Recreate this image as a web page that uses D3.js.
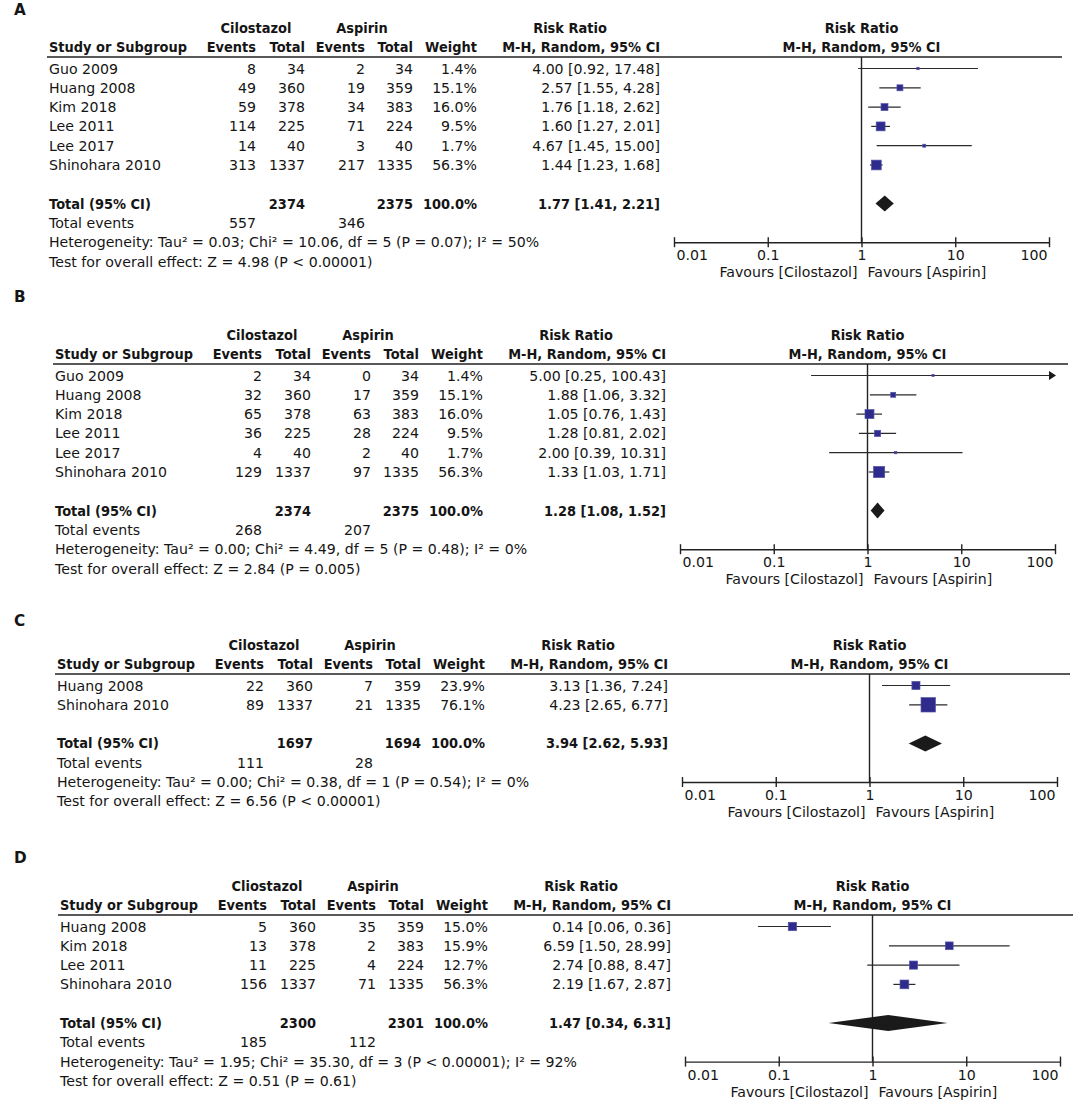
<!DOCTYPE html>
<html><head><meta charset="utf-8">
<script src="https://cdn.jsdelivr.net/npm/d3@7"></script>
<style>body{margin:0;background:#fff}svg{display:block}</style>
</head><body>
<svg id="c" width="1084" height="1109"></svg>
<script>
// ---------------- DATA ----------------
const panelLetters = ["A", "B", "C", "D"];
const groupNames = [["Cilostazol", "Aspirin"], ["Cilostazol", "Aspirin"], ["Cilostazol", "Aspirin"], ["Cliostazol", "Aspirin"]];

// Panel A
const studiesA = ["Guo 2009", "Huang 2008", "Kim 2018", "Lee 2011", "Lee 2017", "Shinohara 2010"];
const cilEventsA = [8, 49, 59, 114, 14, 313];
const cilTotalA = [34, 360, 378, 225, 40, 1337];
const aspEventsA = [2, 19, 34, 71, 3, 217];
const aspTotalA = [34, 359, 383, 224, 40, 1335];
const weightA = [1.4, 15.1, 16.0, 9.5, 1.7, 56.3];
const rrA = [4.00, 2.57, 1.76, 1.60, 4.67, 1.44];
const lowerA = [0.92, 1.55, 1.18, 1.27, 1.45, 1.23];
const upperA = [17.48, 4.28, 2.62, 2.01, 15.00, 1.68];

// Panel B
const studiesB = ["Guo 2009", "Huang 2008", "Kim 2018", "Lee 2011", "Lee 2017", "Shinohara 2010"];
const cilEventsB = [2, 32, 65, 36, 4, 129];
const cilTotalB = [34, 360, 378, 225, 40, 1337];
const aspEventsB = [0, 17, 63, 28, 2, 97];
const aspTotalB = [34, 359, 383, 224, 40, 1335];
const weightB = [1.4, 15.1, 16.0, 9.5, 1.7, 56.3];
const rrB = [5.00, 1.88, 1.05, 1.28, 2.00, 1.33];
const lowerB = [0.25, 1.06, 0.76, 0.81, 0.39, 1.03];
const upperB = [100.43, 3.32, 1.43, 2.02, 10.31, 1.71];

// Panel C
const studiesC = ["Huang 2008", "Shinohara 2010"];
const cilEventsC = [22, 89];
const cilTotalC = [360, 1337];
const aspEventsC = [7, 21];
const aspTotalC = [359, 1335];
const weightC = [23.9, 76.1];
const rrC = [3.13, 4.23];
const lowerC = [1.36, 2.65];
const upperC = [7.24, 6.77];

// Panel D
const studiesD = ["Huang 2008", "Kim 2018", "Lee 2011", "Shinohara 2010"];
const cilEventsD = [5, 13, 11, 156];
const cilTotalD = [360, 378, 225, 1337];
const aspEventsD = [35, 2, 4, 71];
const aspTotalD = [359, 383, 224, 1335];
const weightD = [15.0, 15.9, 12.7, 56.3];
const rrD = [0.14, 6.59, 2.74, 2.19];
const lowerD = [0.06, 1.50, 0.88, 1.67];
const upperD = [0.36, 28.99, 8.47, 2.87];

// Totals per panel (A, B, C, D)
const totalCilN = [2374, 2374, 1697, 2300];
const totalAspN = [2375, 2375, 1694, 2301];
const totalRR = [1.77, 1.28, 3.94, 1.47];
const totalLower = [1.41, 1.08, 2.62, 0.34];
const totalUpper = [2.21, 1.52, 5.93, 6.31];
const totalCilEvents = [557, 268, 111, 185];
const totalAspEvents = [346, 207, 28, 112];
const tau2 = [0.03, 0.00, 0.00, 1.95];
const chi2 = [10.06, 4.49, 0.38, 35.30];
const dfs = [5, 5, 1, 3];
const hetP = ["P = 0.07", "P = 0.48", "P = 0.54", "P < 0.00001"];
const i2 = [50, 0, 0, 92];
const zValues = [4.98, 2.84, 6.56, 0.51];
const zP = ["P < 0.00001", "P = 0.005", "P < 0.00001", "P = 0.61"];

const tickValues = [0.01, 0.1, 1, 10, 100];
const tickLabels = ["0.01", "0.1", "1", "10", "100"];
const favoursLeft = "Favours [Cilostazol]";
const favoursRight = "Favours [Aspirin]";

// ---------------- LAYOUT ----------------
const layout = [
  {line: 57, letter: 10, dx: 0},
  {line: 364, letter: 297, dx: 6},
  {line: 674, letter: 621, dx: 8},
  {line: 915, letter: 858, dx: 11}
];
const COL = {name: 49, e1: 256, t1: 305, e2: 365, t2: 413, w: 477, ci: 660,
             cil: 256, asp: 362, rr: 570, lineL: 47, lineR: 1062, ax0: 674, ax1: 1049};
const ROW = 19.3;
const FONT = "'DejaVu Sans', Verdana, sans-serif";
const INK = "#151515";

const svg = d3.select("#c");
function measure(text, weight, size) {
  const t = svg.append("text").attr("font-family", FONT).attr("font-weight", weight)
    .attr("font-size", size).text(text);
  const w = t.node().getComputedTextLength(); t.remove(); return w;
}
const regSize = 100 * 324 / measure("Test for overall effect: Z = 4.98 (P < 0.00001)", "normal", 100);
// bold text is set at the same size, horizontally condensed like the original's bold face
const boldRatio = 138 / measure("Study or Subgroup", "bold", regSize);

const panels = [
  {studies: studiesA, ce: cilEventsA, ct: cilTotalA, ae: aspEventsA, at: aspTotalA, w: weightA, rr: rrA, lo: lowerA, hi: upperA},
  {studies: studiesB, ce: cilEventsB, ct: cilTotalB, ae: aspEventsB, at: aspTotalB, w: weightB, rr: rrB, lo: lowerB, hi: upperB},
  {studies: studiesC, ce: cilEventsC, ct: cilTotalC, ae: aspEventsC, at: aspTotalC, w: weightC, rr: rrC, lo: lowerC, hi: upperC},
  {studies: studiesD, ce: cilEventsD, ct: cilTotalD, ae: aspEventsD, at: aspTotalD, w: weightD, rr: rrD, lo: lowerD, hi: upperD}
];

function txt(g, x, y, s, anchor, bold) {
  const t = g.append("text").attr("x", x).attr("y", y).attr("dy", "0.36em")
    .attr("text-anchor", anchor).attr("font-family", FONT)
    .attr("font-weight", bold ? "bold" : "normal")
    .attr("font-size", regSize).attr("fill", INK).text(s);
  if (bold) {
    const w = t.node().getComputedTextLength();
    t.attr("textLength", w * boldRatio).attr("lengthAdjust", "spacingAndGlyphs");
  }
  return t;
}
const ciText = (r, l, h) => `${r.toFixed(2)} [${l.toFixed(2)}, ${h.toFixed(2)}]`;

panels.forEach((P, k) => {
  const L = layout[k];
  const g = svg.append("g").attr("transform", `translate(${L.dx},0)`);
  const n = P.studies.length;
  const rowY = i => L.line + 11.5 + ROW * i;
  const axisY = rowY(n + 3);
  const x = d3.scaleLog().domain([0.01, 100]).range([COL.ax0, COL.ax1]);
  const x1 = x(1);

  // panel letter
  g.append("text").attr("x", 14 - L.dx).attr("y", L.letter).attr("dy", "0.36em")
    .attr("font-family", FONT).attr("font-weight", "bold").attr("font-size", regSize * 1.08)
    .attr("fill", INK).text(panelLetters[k]);

  // headers
  const h1 = L.line - 29, h2 = L.line - 10;
  txt(g, COL.cil, h1, groupNames[k][0], "middle", true);
  txt(g, COL.asp, h1, groupNames[k][1], "middle", true);
  txt(g, COL.rr, h1, "Risk Ratio", "middle", true);
  txt(g, x1, h1, "Risk Ratio", "middle", true);
  txt(g, COL.name, h2, "Study or Subgroup", "start", true);
  txt(g, COL.e1, h2, "Events", "end", true);
  txt(g, COL.t1, h2, "Total", "end", true);
  txt(g, COL.e2, h2, "Events", "end", true);
  txt(g, COL.t2, h2, "Total", "end", true);
  txt(g, COL.w, h2, "Weight", "end", true);
  txt(g, COL.ci, h2, "M-H, Random, 95% CI", "end", true);
  txt(g, x1, h2, "M-H, Random, 95% CI", "middle", true);

  g.append("line").attr("x1", COL.lineL).attr("x2", COL.lineR)
    .attr("y1", L.line).attr("y2", L.line).attr("stroke", "#222").attr("stroke-width", 1.4);

  // study rows (text)
  P.studies.forEach((s, i) => {
    const y = rowY(i);
    txt(g, COL.name, y, s, "start", false);
    txt(g, COL.e1, y, P.ce[i], "end", false);
    txt(g, COL.t1, y, P.ct[i], "end", false);
    txt(g, COL.e2, y, P.ae[i], "end", false);
    txt(g, COL.t2, y, P.at[i], "end", false);
    txt(g, COL.w, y, P.w[i].toFixed(1) + "%", "end", false);
    txt(g, COL.ci, y, ciText(P.rr[i], P.lo[i], P.hi[i]), "end", false);
  });

  // totals
  const ty = rowY(n + 1);
  txt(g, COL.name, ty, "Total (95% CI)", "start", true);
  txt(g, COL.t1, ty, totalCilN[k], "end", true);
  txt(g, COL.t2, ty, totalAspN[k], "end", true);
  txt(g, COL.w, ty, "100.0%", "end", true);
  txt(g, COL.ci, ty, ciText(totalRR[k], totalLower[k], totalUpper[k]), "end", true);
  const ey = rowY(n + 2);
  txt(g, COL.name, ey, "Total events", "start", false);
  txt(g, COL.e1, ey, totalCilEvents[k], "end", false);
  txt(g, COL.e2, ey, totalAspEvents[k], "end", false);
  txt(g, COL.name, rowY(n + 3),
    `Heterogeneity: Tau² = ${tau2[k].toFixed(2)}; Chi² = ${chi2[k].toFixed(2)}, df = ${dfs[k]} (${hetP[k]}); I² = ${i2[k]}%`, "start", false);
  txt(g, COL.name, rowY(n + 4),
    `Test for overall effect: Z = ${zValues[k].toFixed(2)} (${zP[k]})`, "start", false);

  // vertical line of no effect
  g.append("line").attr("x1", x1).attr("x2", x1).attr("y1", L.line).attr("y2", axisY)
    .attr("stroke", "#222").attr("stroke-width", 1.4);

  // random-effects weights for box sizing
  const se = P.lo.map((l, i) => (Math.log(P.hi[i]) - Math.log(l)) / 3.92);
  const rw = se.map(s => 1 / (s * s + tau2[k]));
  const sumW = d3.sum(rw);
  const side = d3.scaleSqrt().domain([0, 100]).range([0, 16.5]);

  P.studies.forEach((s, i) => {
    const y = rowY(i);
    const lo = Math.max(P.lo[i], 0.01), hi = Math.min(P.hi[i], 100);
    g.append("line").attr("x1", x(lo)).attr("x2", x(hi)).attr("y1", y).attr("y2", y)
      .attr("stroke", "#2a2a2a").attr("stroke-width", 1.2);
    if (P.hi[i] > 100) {
      const xe = x(100);
      g.append("path").attr("d", `M${xe + 1},${y} L${xe - 6},${y - 4.5} L${xe - 6},${y + 4.5} Z`).attr("fill", "#1a1a1a");
    }
    const sz = Math.max(2.2, side(100 * rw[i] / sumW));
    g.append("rect").attr("x", x(P.rr[i]) - sz / 2).attr("y", y - sz / 2)
      .attr("width", sz).attr("height", sz)
      .attr("fill", "#2e2b8c").attr("stroke", "#5553a6").attr("stroke-width", 0.7);
  });

  // diamond
  const dh = 8;
  g.append("path")
    .attr("d", `M${x(totalLower[k])},${ty} L${x(totalRR[k])},${ty - dh} L${x(totalUpper[k])},${ty} L${x(totalRR[k])},${ty + dh} Z`)
    .attr("fill", "#1a1a1a");

  // axis
  const axis = d3.axisBottom(x).tickValues(tickValues).tickFormat((d, i) => tickLabels[i])
    .tickSizeInner(5).tickSizeOuter(0);
  const ag = g.append("g").attr("transform", `translate(0,${axisY})`).call(axis);
  ag.select(".domain").attr("stroke", "#222").attr("stroke-width", 1.4);
  ag.selectAll(".tick line").attr("y1", -5).attr("y2", 5).attr("stroke", "#222").attr("stroke-width", 1.4);
  ag.selectAll(".tick text").attr("y", 8).attr("font-family", FONT).attr("font-size", regSize).attr("fill", INK)
    .attr("text-anchor", (d, i) => i === 0 ? "start" : (i === tickValues.length - 1 ? "end" : "middle"))
    .attr("x", (d, i) => i === 0 ? 2 : (i === tickValues.length - 1 ? -2 : 0));
  ag.attr("font-family", null).attr("font-size", null);

  g.append("text").attr("x", x1 - 4).attr("y", axisY + 35).attr("text-anchor", "end")
    .attr("font-family", FONT).attr("font-size", regSize).attr("fill", INK).text(favoursLeft);
  g.append("text").attr("x", x1 + 6).attr("y", axisY + 35).attr("text-anchor", "start")
    .attr("font-family", FONT).attr("font-size", regSize).attr("fill", INK).text(favoursRight);
});
</script>
</body></html>
